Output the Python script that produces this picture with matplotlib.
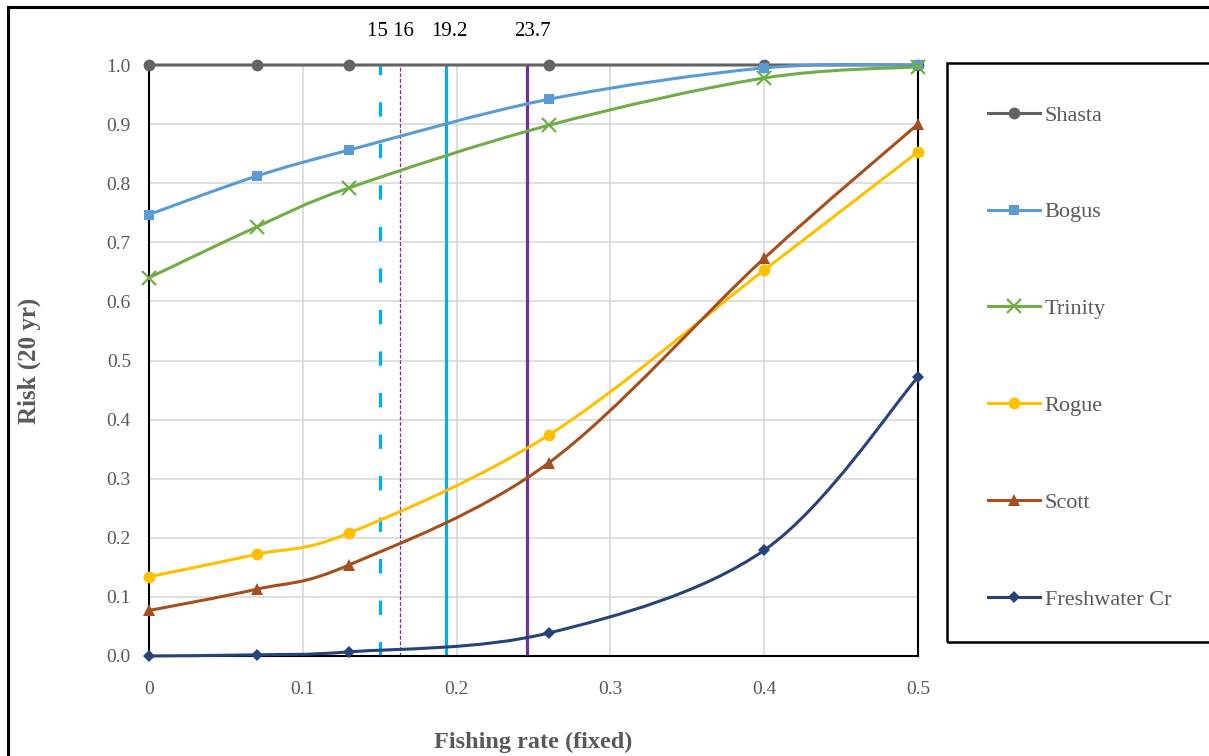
import numpy as np
import matplotlib
matplotlib.use('Agg')
import matplotlib.pyplot as plt
from matplotlib.path import Path
from matplotlib.patches import PathPatch, Rectangle
from matplotlib.lines import Line2D

plt.rcParams['font.family'] = ['Liberation Serif', 'DejaVu Serif']

# tasas de pesca (eje x)
tasa = [0, 0.07, 0.13, 0.26, 0.4, 0.5]

shasta = [1.0, 1.0, 1.0, 1.0, 1.0, 1.0]
bogus = [0.747, 0.812, 0.856, 0.942, 0.995, 1.0]
trinity = [0.640, 0.726, 0.792, 0.898, 0.978, 0.997]
rogue = [0.134, 0.172, 0.208, 0.374, 0.653, 0.853]
scott = [0.077, 0.113, 0.154, 0.327, 0.673, 0.900]
freshwater = [0.0, 0.002, 0.007, 0.039, 0.179, 0.472]

nombres = ['Shasta', 'Bogus', 'Trinity', 'Rogue', 'Scott', 'Freshwater Cr']
series = [shasta, bogus, trinity, rogue, scott, freshwater]
colores = ['#636363', '#5B9BD5', '#70AD47', '#FFC000', '#A5501C', '#264478']
marcadores = ['o', 's', 'x', 'o', '^', 'D']
tam_marc = [8.5, 7.5, 10, 8.5, 8.5, 6.5]

# lineas verticales de referencia
ref_x = [0.15, 0.163, 0.193, 0.246]
ref_etiq = ['15 16', '19.2', '23.7']
ref_etiq_x = [0.157, 0.195, 0.249]


def curva_suave(xs, ys):
    # bezier tipo Excel (catmull-rom) en coordenadas de datos
    p = np.column_stack([xs, ys])
    n = len(p)
    verts = [p[0]]
    codes = [Path.MOVETO]
    for i in range(n - 1):
        p0 = p[i - 1] if i > 0 else p[i]
        p3 = p[i + 2] if i + 2 < n else p[i + 1]
        c1 = p[i] + (p[i + 1] - p0) / 6.0
        c2 = p[i + 1] - (p3 - p[i]) / 6.0
        verts += [c1, c2, p[i + 1]]
        codes += [Path.CURVE4] * 3
    return Path(verts, codes)


fig = plt.figure(figsize=(12.09, 7.56), dpi=100)
ax = fig.add_axes([149 / 1209, 1 - 656 / 756, (918 - 149) / 1209, (656 - 65) / 756])

ax.set_xlim(0, 0.5)
ax.set_ylim(0, 1.0)
ax.set_xticks(np.arange(0, 0.51, 0.1))
ax.set_xticklabels(['0', '0.1', '0.2', '0.3', '0.4', '0.5'])
ax.set_yticks(np.arange(0, 1.01, 0.1))
ax.set_yticklabels(['%.1f' % v for v in np.arange(0, 1.01, 0.1)])
ax.grid(True, color='#D9D9D9', lw=1.2, zorder=0)
ax.set_axisbelow(True)
ax.tick_params(length=0, labelsize=14, colors='#595959')
ax.tick_params(axis='x', pad=18)
ax.tick_params(axis='y', pad=13)
for s in ['left', 'bottom', 'right']:
    ax.spines[s].set_color('black')
    ax.spines[s].set_linewidth(1.5)
ax.spines['top'].set_visible(False)

# lineas verticales
ax.axvline(ref_x[0], color='#00B0F0', lw=2.3, ls=(0, (4.5, 8.5)), zorder=2)
ax.axvline(ref_x[1], color='#7030A0', lw=0.9, ls=(0, (3, 1.5)), zorder=2)
ax.axvline(ref_x[2], color='#00B0F0', lw=2.3, zorder=2)
ax.axvline(ref_x[3], color='#7030A0', lw=2.3, zorder=2)

for xe, te in zip(ref_etiq_x, ref_etiq):
    ax.text(xe, 1.04, te, ha='center', va='bottom', fontsize=15, color='black')

handles = []
for k, (nom, ys) in enumerate(zip(nombres, series)):
    c = colores[k]
    ax.add_patch(PathPatch(curva_suave(tasa, ys), fill=False, edgecolor=c,
                           lw=2.2, zorder=3 + k, capstyle='round', clip_on=False))
    mew = 1.6 if marcadores[k] == 'x' else 0
    ax.plot(tasa, ys, ls='none', marker=marcadores[k], ms=tam_marc[k], color=c,
            mew=mew, zorder=3 + k, clip_on=False)
    handles.append(Line2D([], [], color=c, lw=2.2, marker=marcadores[k],
                          ms=tam_marc[k], mew=mew))

ax.set_xlabel('Fishing rate (fixed)', fontsize=17.5, fontweight='bold',
              color='#595959', labelpad=24)
ax.set_ylabel('Risk (20 yr)', fontsize=18, fontweight='bold', color='#595959',
              labelpad=47)

# caja de leyenda y marco exterior
fig.patches.append(Rectangle((947 / 1209, 1 - 642 / 756), 0.3, (642 - 63) / 756,
                             transform=fig.transFigure, fill=False,
                             edgecolor='black', lw=1.8))
fig.patches.append(Rectangle((8 / 1209, -0.1), 1.2, 1 - 7 / 756 + 0.1,
                             transform=fig.transFigure, fill=False,
                             edgecolor='black', lw=2.2))

fig.legend(handles, nombres, loc='upper left',
           bbox_to_anchor=(977 / 1209, 1 - 94 / 756), frameon=False,
           fontsize=16, labelspacing=3.43, handlelength=2.35, handletextpad=0.2,
           labelcolor='#595959', borderpad=0)

fig.savefig('out.png', dpi=100)
